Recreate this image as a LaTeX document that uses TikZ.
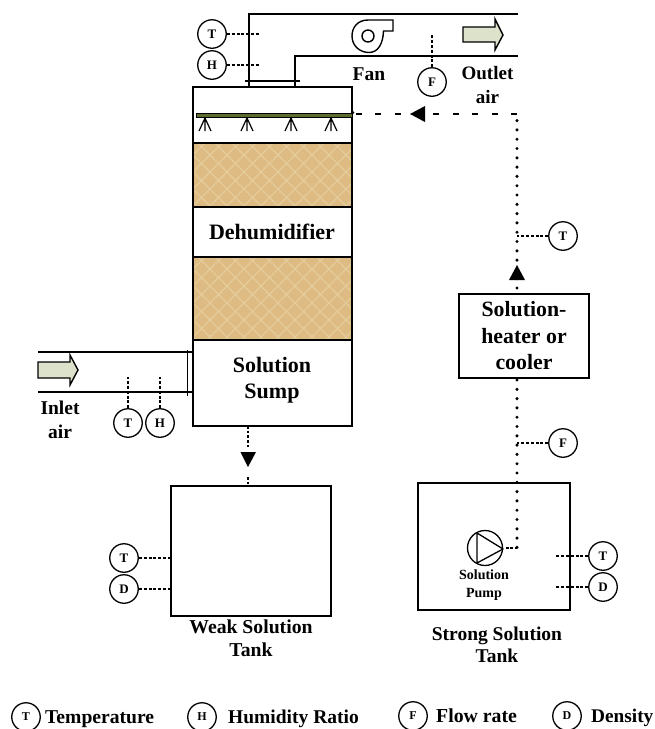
\documentclass[tikz,border=0pt]{standalone}
\usepackage{fontspec}
\setmainfont{Liberation Serif}
\begin{document}
\begin{tikzpicture}[x=1pt,y=-1pt,
  ln/.style={draw=black,line width=1.4pt},
  boxn/.style={draw=black,line width=1.4pt,fill=white,inner sep=0pt,outer sep=0pt,minimum width=#1},
  sensor/.style={circle,draw=black,line width=1.3pt,fill=white,minimum size=28.5pt,inner sep=0pt,font=\bfseries\fontsize{13}{14}\selectfont},
  legsensor/.style={sensor,font=\bfseries\fontsize{12}{13}\selectfont},
  sig/.style={draw=black,line width=1.2pt,dash pattern=on 3pt off 1.8pt},
  dotpipe/.style={draw=black,line width=3.4pt,line cap=round,dash pattern=on 0pt off 9.3pt},
  dashpipe/.style={draw=black,line width=2.6pt,dash pattern=on 6pt off 13.4pt},
  shortpipe/.style={draw=black,line width=2.6pt,dash pattern=on 2.5pt off 2.2pt},
  lbl/.style 2 args={font=\bfseries\fontsize{#1}{#2}\selectfont,align=center,inner sep=0pt},
  airarrow/.style={draw=black,line width=1.4pt,fill=airfill},
  tri/.style={fill=black,draw=none}]
\definecolor{airfill}{HTML}{DDE3CB}
\definecolor{tan1}{HTML}{DDBB82}
\definecolor{tan2}{HTML}{E8CFA0}
\definecolor{bar}{HTML}{5C6B2F}
\useasboundingbox (0,0) rectangle (655,729);

% ducts
\draw[ln] (518,14) -- (249,14) -- (249,87);
\draw[ln] (518,56) -- (295,56) -- (295,87);
\draw[ln] (245,81) -- (300,81);
\draw[ln] (38,352) -- (193,352);
\draw[ln] (38,392) -- (193,392);
\draw[ln] (187.5,350) -- (187.5,396);

% dehumidifier column
\node[boxn=159pt,minimum height=339pt,anchor=north west] (column) at (193,87) {};
\foreach \yt/\yb in {143/207,257/340}{
  \begin{scope}
    \clip (193,\yt) rectangle (352,\yb);
    \fill[tan1] (193,\yt) rectangle (352,\yb);
    \foreach \k in {-6,...,22}{
      \draw[tan2,line width=1.2pt,dash pattern=on 1.5pt off .6pt] (193+\k*17,\yt-5) -- ++(100,100);
      \draw[tan2,line width=1.2pt,dash pattern=on 1.5pt off .6pt] (193+\k*17,\yt-5) -- ++(-100,100);
    }
  \end{scope}
  \draw[ln] (193,\yt) rectangle (352,\yb);
}
\draw[ln] (column.north west) rectangle (column.south east);
\node[lbl={22}{26}] (dehum) at (272,232) {Dehumidifier};
\node[lbl={22}{26}] (sump) at (272,380) {Solution\\Sump};

% spray bar and nozzles
\draw[draw=black,line width=1pt,fill=bar] (196,113) rectangle (352,117.5);
\foreach \x in {205,247,291,331}{
  \draw[black,line width=1.2pt] (\x,118) -- (\x,131) (\x,118) -- (\x-6,131) (\x,118) -- (\x+6,131);
}

% fan
\draw[black,line width=1.4pt] (393,20) -- (368,20)
   .. controls (358,20) and (352,27) .. (352,36)
   .. controls (352,46) and (360,52.5) .. (369,52.5)
   .. controls (378,52.5) and (383,44) .. (383.5,31)
   -- (393,31) -- cycle;
\draw[black,line width=1.4pt] (368,36) circle (6pt);
\node[lbl={19.5}{24}] (fan) at (369,74) {Fan};

% air arrows
\draw[airarrow] (463,27) -- (495,27) -- (495,19) -- (503,35) -- (495,50) -- (495,42) -- (463,42) -- cycle;
\draw[airarrow] (38,362) -- (70,362) -- (70,355) -- (78,370) -- (70,385) -- (70,378) -- (38,378) -- cycle;
\node[lbl={19}{24}] (outlet) at (487.5,85) {Outlet\\air};
\node[lbl={19.5}{24}] (inlet) at (60,420) {Inlet\\air};

% tanks and heater
\node[boxn=160pt,minimum height=130pt,anchor=north west] (weak) at (171,486) {};
\node[boxn=152pt,minimum height=127pt,anchor=north west] (strong) at (418,483) {};
\node[boxn=130pt,minimum height=84pt,anchor=north west,font=\bfseries\fontsize{21.8}{26.5}\selectfont,align=center] (heater) at (459,294) {Solution-\\heater or\\cooler};
\node[lbl={19.7}{23}] (weaklbl) at (251,638) {Weak Solution\\Tank};
\node[lbl={19.5}{22}] (stronglbl) at (497,645) {Strong Solution\\Tank};

% pump
\node[circle,draw=black,line width=1.3pt,minimum size=35pt,inner sep=0pt] (pump) at (485,548) {};
\draw[black,line width=1.3pt,line join=round] (477,533) -- (477,563) -- (503,549) -- cycle;
\node[lbl={14}{18}] (pumplbl) at (484,585) {Solution\\Pump};

% solution piping
\coordinate (corner) at (517,114);
\coordinate (pumpdrop) at (517,548);
\coordinate (heatin) at (517,288);
\coordinate (heaterbot) at (517,380);
\draw[dotpipe] (heaterbot) -- (pumpdrop);
\draw[dotpipe] (heatin) -- (corner);
\draw[draw=black,line width=1.6pt,dash pattern=on 2.5pt off 1.8pt,shorten <=3pt] (pump.east) -- (pumpdrop);
\draw[dashpipe] (corner) -- (column.east |- corner);
\fill[tri] (353,112.5) circle (1.5pt);
\fill[tri] (410,114) -- (425,106) -- (425,122) -- cycle;
\fill[tri] (517,265) -- (525,280) -- (509,280) -- cycle;
\coordinate (drainA) at (248,426);
\coordinate (drainB) at (248,449);
\coordinate (drainC) at (248,477);
\coordinate (drainD) at (248,486);
\draw[shortpipe] (drainA) -- (drainB);
\fill[tri] (240.5,452) -- (256,452) -- (248,467) -- cycle;
\draw[shortpipe] (drainC) -- (drainD);

% sensors
\node[sensor] (t1) at (212,34) {T};
\node[sensor] (h1) at (212,65) {H};
\coordinate (t1e) at (260,34);
\coordinate (h1e) at (260,65);
\draw[sig] (t1) -- (t1e);
\draw[sig] (h1) -- (h1e);
\node[sensor] (f1) at (432,82) {F};
\coordinate (f1e) at (432,35);
\draw[sig] (f1) -- (f1e);
\node[sensor] (t2) at (128,423) {T};
\node[sensor] (h2) at (160,423) {H};
\coordinate (t2e) at (128,377);
\coordinate (h2e) at (160,377);
\draw[sig] (t2) -- (t2e);
\draw[sig] (h2) -- (h2e);
\node[sensor] (t3) at (563,236) {T};
\coordinate (t3e) at (517,236);
\draw[sig] (t3) -- (t3e);
\node[sensor] (f2) at (563,443) {F};
\coordinate (f2e) at (517,443);
\draw[sig] (f2) -- (f2e);
\node[sensor] (t4) at (124,558) {T};
\node[sensor] (d4) at (124,589) {D};
\draw[sig] (t4) -- (weak.west |- t4);
\draw[sig] (d4) -- (weak.west |- d4);
\node[sensor] (t5) at (603,556) {T};
\node[sensor] (d5) at (603,587) {D};
\coordinate (t5e) at (556,556);
\coordinate (d5e) at (556,587);
\draw[sig] (t5) -- (t5e);
\draw[sig] (d5) -- (d5e);

% legend
\node[legsensor] (lt) at (26,717) {T};
\node[legsensor] (lh) at (202,717) {H};
\node[legsensor] (lf) at (413,716) {F};
\node[legsensor] (ld) at (567,716) {D};
\node[lbl={19.6}{22},anchor=base west] (ltt) at (45,723) {Temperature};
\node[lbl={19.5}{22},anchor=base west] (lht) at (228,723) {Humidity Ratio};
\node[lbl={19.8}{22},anchor=base west] (lft) at (436,722) {Flow rate};
\node[lbl={19.3}{22},anchor=base west] (ldt) at (591,722) {Density};
\end{tikzpicture}
\end{document}
